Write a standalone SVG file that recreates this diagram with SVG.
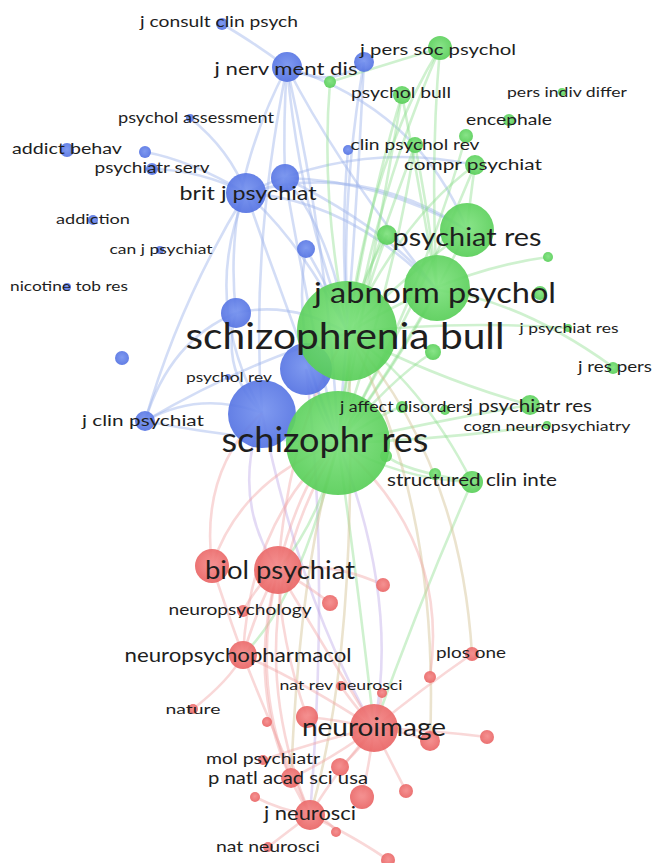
<svg xmlns="http://www.w3.org/2000/svg" width="652" height="863" viewBox="0 0 652 863">
<defs>
<radialGradient id="gb" cx="50%" cy="45%" r="55%"><stop offset="0" stop-color="#7592ef"/><stop offset="1" stop-color="#5472e2"/></radialGradient>
<radialGradient id="gg" cx="50%" cy="45%" r="55%"><stop offset="0" stop-color="#7fe27f"/><stop offset="1" stop-color="#58ce58"/></radialGradient>
<radialGradient id="gr" cx="50%" cy="45%" r="55%"><stop offset="0" stop-color="#f48a8a"/><stop offset="1" stop-color="#e96464"/></radialGradient>
<style>
.eb{fill:none;stroke:#9db3ec;stroke-opacity:.45;stroke-width:2.6}
.eg{fill:none;stroke:#8ddd8d;stroke-opacity:.42;stroke-width:2.6}
.er{fill:none;stroke:#f1a2a2;stroke-opacity:.42;stroke-width:2.6}
.ep{fill:none;stroke:#bda8e8;stroke-opacity:.42;stroke-width:2.6}
.et{fill:none;stroke:#d3c193;stroke-opacity:.45;stroke-width:2.6}
.b{fill:url(#gb);fill-opacity:.92}
.g{fill:url(#gg);fill-opacity:.92}
.r{fill:url(#gr);fill-opacity:.92}
text{font-family:Lato,"Open Sans","Liberation Sans",sans-serif;fill:#1e1e1e;text-anchor:middle}
</style>
</defs>
<rect width="652" height="863" fill="#ffffff"/>
<g id="connectors">
<path class="eb" d="M287,67 Q222,190 236,313"/>
<path class="eb" d="M287,67 Q300,210 348,333"/>
<path class="eb" d="M287,67 Q330,260 338,443"/>
<path class="eb" d="M287,67 Q340,170 437,290"/>
<path class="eb" d="M287,67 Q250,250 262,413"/>
<path class="eb" d="M287,67 Q283,120 285,178"/>
<path class="eb" d="M287,67 Q420,110 467,230"/>
<path class="eb" d="M364,62 Q340,200 348,333"/>
<path class="eb" d="M364,62 Q355,250 338,443"/>
<path class="eb" d="M364,62 Q330,90 287,67"/>
<path class="eb" d="M246,193 Q300,240 348,333"/>
<path class="eb" d="M246,193 Q290,320 338,443"/>
<path class="eb" d="M246,193 Q350,200 437,290"/>
<path class="eb" d="M246,193 Q360,160 467,230"/>
<path class="eb" d="M246,193 Q360,140 475,165"/>
<path class="eb" d="M246,193 Q200,300 262,413"/>
<path class="eb" d="M246,193 Q180,300 145,421"/>
<path class="eb" d="M285,178 Q330,230 348,333"/>
<path class="eb" d="M285,178 Q310,320 338,443"/>
<path class="eb" d="M285,178 Q380,180 467,230"/>
<path class="eb" d="M285,178 Q390,230 437,290"/>
<path class="eb" d="M152,169 Q200,170 246,193"/>
<path class="eb" d="M145,152 Q190,160 246,193"/>
<path class="eb" d="M190,118 Q230,150 246,193"/>
<path class="eb" d="M222,24 Q250,40 287,67"/>
<path class="eb" d="M145,421 Q200,390 262,413"/>
<path class="eb" d="M145,421 Q170,340 236,313"/>
<path class="eb" d="M145,421 Q250,360 348,333"/>
<path class="eb" d="M145,421 Q240,440 338,443"/>
<path class="eb" d="M306,249 Q330,290 348,333"/>
<path class="eb" d="M306,249 Q290,340 338,443"/>
<path class="eb" d="M236,313 Q290,300 348,333"/>
<path class="eb" d="M236,313 Q220,370 262,413"/>
<path class="eb" d="M348,150 Q340,240 348,333"/>
<path class="eb" d="M306,369 Q320,420 338,443"/>
<path class="ep" d="M262,413 Q230,500 278,570"/>
<path class="ep" d="M262,413 Q300,600 374,728"/>
<path class="ep" d="M306,369 Q330,560 310,815"/>
<path class="eg" d="M440,48 Q370,160 348,333"/>
<path class="eg" d="M440,48 Q360,230 338,443"/>
<path class="eg" d="M440,48 Q430,160 437,290"/>
<path class="eg" d="M440,48 Q400,60 330,82"/>
<path class="eg" d="M402,95 Q370,200 348,333"/>
<path class="eg" d="M402,95 Q370,280 338,443"/>
<path class="eg" d="M402,95 Q420,190 437,290"/>
<path class="eg" d="M415,145 Q380,240 348,333"/>
<path class="eg" d="M415,145 Q390,300 338,443"/>
<path class="eg" d="M415,145 Q430,220 437,290"/>
<path class="eg" d="M475,165 Q400,220 348,333"/>
<path class="eg" d="M475,165 Q420,300 338,443"/>
<path class="eg" d="M475,165 Q470,200 467,230"/>
<path class="eg" d="M466,136 Q420,300 338,443"/>
<path class="eg" d="M330,82 Q320,200 348,333"/>
<path class="eg" d="M467,230 Q400,280 348,333"/>
<path class="eg" d="M467,230 Q420,330 338,443"/>
<path class="eg" d="M387,235 Q360,280 348,333"/>
<path class="eg" d="M387,235 Q350,330 338,443"/>
<path class="eg" d="M437,290 Q400,360 338,443"/>
<path class="eg" d="M530,405 Q440,380 348,333"/>
<path class="eg" d="M530,405 Q440,420 338,443"/>
<path class="eg" d="M472,482 Q400,480 338,443"/>
<path class="eg" d="M472,482 Q420,380 348,333"/>
<path class="eg" d="M547,425 Q440,440 338,443"/>
<path class="eg" d="M568,328 Q450,320 348,333"/>
<path class="eg" d="M613,367 Q520,300 437,290"/>
<path class="eg" d="M548,257 Q450,270 348,333"/>
<path class="eg" d="M433,352 Q390,380 338,443"/>
<path class="eg" d="M402,406 Q370,420 338,443"/>
<path class="eg" d="M386,455 Q400,470 472,482"/>
<path class="eg" d="M338,443 Q320,520 278,570"/>
<path class="eg" d="M338,443 Q360,600 374,728"/>
<path class="eg" d="M338,443 Q300,600 243,655"/>
<path class="eg" d="M472,482 Q420,600 374,728"/>
<path class="et" d="M348,333 Q440,500 430,741"/>
<path class="et" d="M348,333 Q460,460 472,654"/>
<path class="et" d="M310,815 Q360,650 348,333"/>
<path class="et" d="M291,778 Q300,560 338,443"/>
<path class="er" d="M278,570 Q300,480 338,443"/>
<path class="er" d="M278,570 Q290,420 348,333"/>
<path class="er" d="M212,566 Q240,480 338,443"/>
<path class="er" d="M212,566 Q200,470 262,413"/>
<path class="er" d="M212,566 Q230,620 243,655"/>
<path class="er" d="M243,655 Q260,600 278,570"/>
<path class="er" d="M243,655 Q250,520 338,443"/>
<path class="er" d="M374,728 Q320,640 278,570"/>
<path class="er" d="M374,728 Q330,780 310,815"/>
<path class="er" d="M374,728 Q300,680 243,655"/>
<path class="er" d="M310,815 Q240,700 278,570"/>
<path class="er" d="M310,815 Q230,620 338,443"/>
<path class="er" d="M310,815 Q260,700 243,655"/>
<path class="er" d="M291,778 Q330,760 374,728"/>
<path class="er" d="M291,778 Q250,680 278,570"/>
<path class="er" d="M362,797 Q370,760 374,728"/>
<path class="er" d="M406,791 Q390,760 374,728"/>
<path class="er" d="M340,767 Q360,750 374,728"/>
<path class="er" d="M307,717 Q340,720 374,728"/>
<path class="er" d="M307,717 Q280,640 278,570"/>
<path class="er" d="M330,603 Q300,580 278,570"/>
<path class="er" d="M383,585 Q330,560 278,570"/>
<path class="er" d="M243,611 Q260,580 278,570"/>
<path class="er" d="M430,677 Q450,540 338,443"/>
<path class="er" d="M430,741 Q400,730 374,728"/>
<path class="er" d="M487,737 Q430,730 374,728"/>
<path class="er" d="M263,760 Q320,740 374,728"/>
<path class="er" d="M268,847 Q290,830 310,815"/>
<path class="er" d="M388,860 Q360,840 310,815"/>
<path class="er" d="M336,832 Q330,820 310,815"/>
<path class="er" d="M255,797 Q280,810 310,815"/>
<path class="er" d="M341,686 Q350,700 374,728"/>
<path class="er" d="M382,693 Q380,710 374,728"/>
<path class="er" d="M472,654 Q420,690 374,728"/>
<path class="er" d="M193,709 Q230,680 243,655"/>
<path class="ep" d="M374,728 Q400,600 338,443"/>
</g>
<g id="nodes">
<g id="n-b1"><circle class="b" cx="145" cy="152" r="6"/></g>
<g id="n-b-jpers"><circle class="b" cx="364" cy="62" r="10"/></g>
<g id="n-b-clin"><circle class="b" cx="348" cy="150" r="5"/></g>
<g id="n-b3"><circle class="b" cx="306" cy="249" r="9"/></g>
<g id="n-b5"><circle class="b" cx="122" cy="358" r="7"/></g>
<g id="n-b2"><circle class="b" cx="285" cy="178" r="14"/></g>
<g id="n-b4"><circle class="b" cx="236" cy="313" r="15"/></g>
<g id="n-g1"><circle class="g" cx="330" cy="82" r="6"/></g>
<g id="n-g2"><circle class="g" cx="466" cy="136" r="7"/></g>
<g id="n-g3"><circle class="g" cx="387" cy="235" r="10"/></g>
<g id="n-g4"><circle class="g" cx="548" cy="257" r="5"/></g>
<g id="n-g5"><circle class="g" cx="540" cy="293" r="7"/></g>
<g id="n-g6"><circle class="g" cx="433" cy="352" r="8"/></g>
<g id="n-g7"><circle class="g" cx="445" cy="410" r="5"/></g>
<g id="n-g8"><circle class="g" cx="435" cy="474" r="6"/></g>
<g id="n-g9"><circle class="g" cx="386" cy="456" r="6"/></g>
<g id="n-r1"><circle class="r" cx="212" cy="566" r="17"/></g>
<g id="n-r2"><circle class="r" cx="383" cy="585" r="7"/></g>
<g id="n-r3"><circle class="r" cx="330" cy="603" r="8"/></g>
<g id="n-r4"><circle class="r" cx="430" cy="677" r="6"/></g>
<g id="n-r5"><circle class="r" cx="382" cy="693" r="5"/></g>
<g id="n-r6"><circle class="r" cx="267" cy="722" r="5"/></g>
<g id="n-r7"><circle class="r" cx="307" cy="717" r="11"/></g>
<g id="n-r8"><circle class="r" cx="430" cy="741" r="10"/></g>
<g id="n-r9"><circle class="r" cx="487" cy="737" r="7"/></g>
<g id="n-r10"><circle class="r" cx="340" cy="767" r="9"/></g>
<g id="n-r11"><circle class="r" cx="362" cy="797" r="12"/></g>
<g id="n-r12"><circle class="r" cx="406" cy="791" r="7"/></g>
<g id="n-r13"><circle class="r" cx="255" cy="797" r="5"/></g>
<g id="n-r14"><circle class="r" cx="336" cy="832" r="5"/></g>
<g id="n-r15"><circle class="r" cx="388" cy="860" r="7"/></g>
<g id="n-j-consult-clin-psych"><circle class="b" cx="222" cy="24" r="6"/><text x="219" y="27" font-size="15" textLength="158" lengthAdjust="spacingAndGlyphs">j consult clin psych</text></g>
<g id="n-j-nerv-ment-dis"><circle class="b" cx="287" cy="67" r="15"/><text x="286" y="75" font-size="18" textLength="143" lengthAdjust="spacingAndGlyphs">j nerv ment dis</text></g>
<g id="n-psychol-assessment"><circle class="b" cx="190" cy="118" r="4"/><text x="196" y="123" font-size="15" textLength="156" lengthAdjust="spacingAndGlyphs">psychol assessment</text></g>
<g id="n-addict-behav"><circle class="b" cx="67" cy="150" r="7"/><text x="67" y="154" font-size="15" textLength="110" lengthAdjust="spacingAndGlyphs">addict behav</text></g>
<g id="n-psychiatr-serv"><circle class="b" cx="152" cy="169" r="6"/><text x="152" y="173" font-size="15" textLength="115" lengthAdjust="spacingAndGlyphs">psychiatr serv</text></g>
<g id="n-brit-j-psychiat"><circle class="b" cx="246" cy="193" r="20"/><text x="248" y="200" font-size="20" textLength="137" lengthAdjust="spacingAndGlyphs">brit j psychiat</text></g>
<g id="n-addiction"><circle class="b" cx="93" cy="220" r="5"/><text x="93" y="224" font-size="14" textLength="74" lengthAdjust="spacingAndGlyphs">addiction</text></g>
<g id="n-can-j-psychiat"><circle class="b" cx="160" cy="250" r="4"/><text x="161" y="254" font-size="14" textLength="103" lengthAdjust="spacingAndGlyphs">can j psychiat</text></g>
<g id="n-nicotine-tob-res"><circle class="b" cx="67" cy="287" r="4"/><text x="69" y="291" font-size="14" textLength="118" lengthAdjust="spacingAndGlyphs">nicotine tob res</text></g>
<g id="n-j-clin-psychiat"><circle class="b" cx="145" cy="421" r="10"/><text x="143" y="426" font-size="16" textLength="122" lengthAdjust="spacingAndGlyphs">j clin psychiat</text></g>
<g id="n-b6"><circle class="b" cx="306" cy="369" r="26"/></g>
<g id="n-b7"><circle class="b" cx="262" cy="414" r="34"/></g>
<g id="n-j-pers-soc-psychol"><circle class="g" cx="440" cy="48" r="12"/><text x="438" y="55" font-size="16" textLength="156" lengthAdjust="spacingAndGlyphs">j pers soc psychol</text></g>
<g id="n-psychol-bull"><circle class="g" cx="402" cy="95" r="9"/><text x="401" y="98" font-size="15" textLength="100" lengthAdjust="spacingAndGlyphs">psychol bull</text></g>
<g id="n-pers-indiv-differ"><circle class="g" cx="562" cy="92" r="4"/><text x="567" y="97" font-size="14" textLength="120" lengthAdjust="spacingAndGlyphs">pers indiv differ</text></g>
<g id="n-encephale"><circle class="g" cx="509" cy="120" r="6"/><text x="509" y="125" font-size="15" textLength="86" lengthAdjust="spacingAndGlyphs">encephale</text></g>
<g id="n-clin-psychol-rev"><circle class="g" cx="415" cy="145" r="8"/><text x="415" y="150" font-size="14.5" textLength="129" lengthAdjust="spacingAndGlyphs">clin psychol rev</text></g>
<g id="n-compr-psychiat"><circle class="g" cx="475" cy="165" r="10"/><text x="473" y="170" font-size="16" textLength="138" lengthAdjust="spacingAndGlyphs">compr psychiat</text></g>
<g id="n-psychiat-res"><circle class="g" cx="467" cy="230" r="27"/><text x="467" y="246" font-size="25" textLength="149" lengthAdjust="spacingAndGlyphs">psychiat res</text></g>
<g id="n-j-psychiat-res"><circle class="g" cx="568" cy="328" r="4"/><text x="569" y="333" font-size="14" textLength="99" lengthAdjust="spacingAndGlyphs">j psychiat res</text></g>
<g id="n-j-res-pers"><circle class="g" cx="613" cy="368" r="6"/><text x="615" y="372" font-size="15" textLength="74" lengthAdjust="spacingAndGlyphs">j res pers</text></g>
<g id="n-j-psychiatr-res"><circle class="g" cx="530" cy="405" r="10"/><text x="530" y="412" font-size="17" textLength="124" lengthAdjust="spacingAndGlyphs">j psychiatr res</text></g>
<g id="n-cogn-neuropsychiatry"><circle class="g" cx="547" cy="425" r="4"/><text x="547" y="431" font-size="14" textLength="167" lengthAdjust="spacingAndGlyphs">cogn neuropsychiatry</text></g>
<g id="n-structured-clin-inte"><circle class="g" cx="472" cy="482" r="11"/><text x="472" y="486" font-size="17" textLength="170" lengthAdjust="spacingAndGlyphs">structured clin inte</text></g>
<g id="n-schizophr-res"><circle class="g" cx="338" cy="443" r="52"/><text x="325" y="452" font-size="34" textLength="207" lengthAdjust="spacingAndGlyphs">schizophr res</text></g>
<g id="n-schizophrenia-bull"><circle class="g" cx="347" cy="331" r="50"/><text x="345" y="349" font-size="36" textLength="319" lengthAdjust="spacingAndGlyphs">schizophrenia bull</text></g>
<g id="n-j-abnorm-psychol"><circle class="g" cx="437" cy="288" r="33"/><text x="435" y="303" font-size="28" textLength="242" lengthAdjust="spacingAndGlyphs">j abnorm psychol</text></g>
<g id="n-j-affect-disorders"><circle class="g" cx="402" cy="407" r="6"/><text x="405" y="412" font-size="14.5" textLength="130" lengthAdjust="spacingAndGlyphs">j affect disorders</text></g>
<g id="n-psychol-rev"><circle class="b" cx="228" cy="377" r="3"/><text x="229" y="382" font-size="14" textLength="86" lengthAdjust="spacingAndGlyphs">psychol rev</text></g>
<g id="n-neuropsychology"><circle class="r" cx="243" cy="611" r="6"/><text x="240" y="615" font-size="15" textLength="143" lengthAdjust="spacingAndGlyphs">neuropsychology</text></g>
<g id="n-biol-psychiat"><circle class="r" cx="278" cy="570" r="24"/><text x="280" y="579" font-size="25" textLength="150" lengthAdjust="spacingAndGlyphs">biol psychiat</text></g>
<g id="n-neuropsychopharmacol"><circle class="r" cx="243" cy="655" r="14"/><text x="238" y="662" font-size="20" textLength="227" lengthAdjust="spacingAndGlyphs">neuropsychopharmacol</text></g>
<g id="n-plos-one"><circle class="r" cx="472" cy="654" r="7"/><text x="471" y="658" font-size="15" textLength="70" lengthAdjust="spacingAndGlyphs">plos one</text></g>
<g id="n-nat-rev-neurosci"><circle class="r" cx="341" cy="686" r="5"/><text x="341" y="690" font-size="14" textLength="123" lengthAdjust="spacingAndGlyphs">nat rev neurosci</text></g>
<g id="n-nature"><circle class="r" cx="193" cy="709" r="5"/><text x="193" y="714" font-size="14" textLength="55" lengthAdjust="spacingAndGlyphs">nature</text></g>
<g id="n-neuroimage"><circle class="r" cx="374" cy="728" r="24"/><text x="374" y="736" font-size="25" textLength="144" lengthAdjust="spacingAndGlyphs">neuroimage</text></g>
<g id="n-mol-psychiatr"><circle class="r" cx="263" cy="760" r="5"/><text x="263" y="764" font-size="15" textLength="114" lengthAdjust="spacingAndGlyphs">mol psychiatr</text></g>
<g id="n-p-natl-acad-sci-usa"><circle class="r" cx="291" cy="778" r="10"/><text x="288" y="784" font-size="17" textLength="160" lengthAdjust="spacingAndGlyphs">p natl acad sci usa</text></g>
<g id="n-j-neurosci"><circle class="r" cx="310" cy="815" r="15"/><text x="310" y="820" font-size="19" textLength="92" lengthAdjust="spacingAndGlyphs">j neurosci</text></g>
<g id="n-nat-neurosci"><circle class="r" cx="268" cy="847" r="5"/><text x="268" y="852" font-size="15" textLength="104" lengthAdjust="spacingAndGlyphs">nat neurosci</text></g>
</g>
</svg>
